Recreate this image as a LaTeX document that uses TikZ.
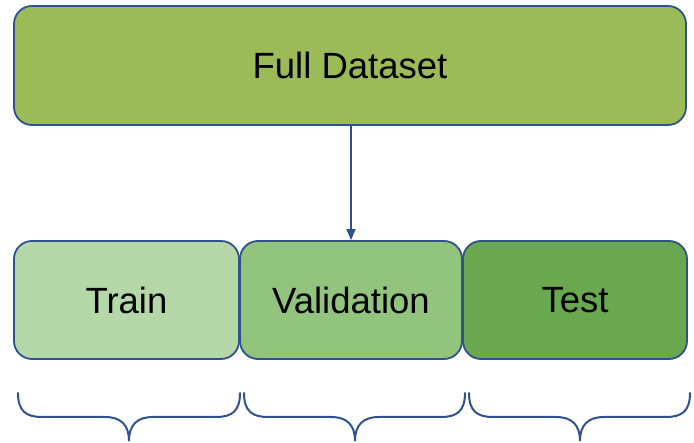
\documentclass[tikz,border=0pt]{standalone}
\usepackage{fontspec}
\setmainfont{Liberation Sans}
\usetikzlibrary{arrows.meta}
\definecolor{edge}{HTML}{2F528F}
\definecolor{fullc}{HTML}{9BBB59}
\definecolor{trainc}{HTML}{B6D7A8}
\definecolor{valc}{HTML}{93C47D}
\definecolor{testc}{HTML}{6AA84F}
\tikzset{
  box/.style={draw=edge, line width=1.8pt, rounded corners=18pt, inner sep=0pt,
    font=\fontsize{36.5}{42}\selectfont, text=black},
  bracepath/.style={draw=edge, line width=2pt, line cap=round},
  link/.style={draw=edge, line width=1.6pt, -{Triangle[width=9pt,length=11pt]}}
}
\begin{document}
\begin{tikzpicture}[x=1pt,y=-1pt]
\useasboundingbox (0,0) rectangle (694,443);
\node[box, fill=fullc, minimum width=672pt, minimum height=119pt] (full) at (350,65.5) {Full Dataset};
\node[box, fill=trainc, minimum width=225pt, minimum height=118pt] (train) at (126.5,300) {Train};
\node[box, fill=valc, minimum width=222pt, minimum height=118pt] (val) at (351,300) {Validation};
\node[box, fill=testc, minimum width=224pt, minimum height=118pt] (test) at (575,300) {Test};
\draw[link] (full.south -| 351,0) -- (val.north -| 351,0);
% braces
\draw[bracepath] (18,393) .. controls (18,411) and (26,417) .. (42,417) -- (105,417)
  .. controls (121,417) and (129,425) .. (129,441)
  .. controls (129,425) and (137,417) .. (153,417) -- (216,417)
  .. controls (232,417) and (240,411) .. (240,393);
\draw[bracepath] (244,393) .. controls (244,411) and (252,417) .. (268,417) -- (331,417)
  .. controls (347,417) and (355,425) .. (355,441)
  .. controls (355,425) and (363,417) .. (379,417) -- (441,417)
  .. controls (457,417) and (465,411) .. (465,393);
\draw[bracepath] (469,393) .. controls (469,411) and (477,417) .. (493,417) -- (556,417)
  .. controls (572,417) and (580,425) .. (580,441)
  .. controls (580,425) and (588,417) .. (604,417) -- (666,417)
  .. controls (682,417) and (690,411) .. (690,393);
\end{tikzpicture}
\end{document}
